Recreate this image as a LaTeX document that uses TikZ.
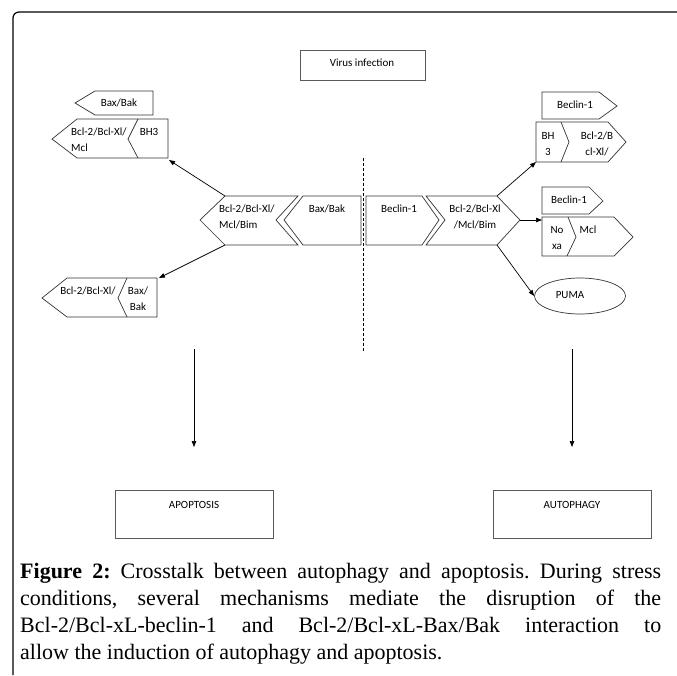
\documentclass[tikz,border=0pt]{standalone}
\usepackage{fontspec}
\setmainfont{Liberation Serif}
\newfontfamily\diagfont{Carlito}
\usetikzlibrary{arrows.meta,shapes.geometric}

\begin{document}
\begin{tikzpicture}[x=1pt,y=-1pt,
        txt/.style={font=\diagfont\fontsize{11}{16}\selectfont, inner sep=0pt},
        shp/.style={draw=black!80, line width=0.7pt, line join=miter},
        boxed/.style={draw=black!65, line width=0.9pt},
        conn/.style={draw, line width=0.7pt, -{Triangle[length=6pt,width=4.5pt]}}]
    \useasboundingbox (0,0) rectangle (677,675);
    % frame
    \draw[line width=1.2pt, rounded corners=6pt] (677,12) -- (13,12) -- (13,675);

    \draw[boxed] (300,50) rectangle (425,80);
    \node[txt] (virus) at (362,63) {Virus infection};

    % apoptosis side
    \draw[shp] (75,103) -- (95,91) -- (153,91) -- (153,115) -- (95,115) -- cycle;
    \node[txt] (baxtop) at (119,103) {Bax/Bak};
    \draw[shp] (52,139) -- (77,119) -- (168,119) -- (168,158) -- (77,158) -- cycle;
    \draw[shp] (138,119) -- (128,139) -- (138,158);
    \node[txt, align=left, anchor=west] (bclmcl) at (71,140) {Bcl-2/Bcl-Xl/\\Mcl};
    \node[txt] (bhthree) at (149,132) {BH3};
    \coordinate (bhthree-se) at (169,160);

    \draw[shp] (42,298) -- (67,278) -- (157,278) -- (157,317) -- (67,317) -- cycle;
    \draw[shp] (127,278) -- (118,298) -- (127,317);
    \node[txt] (bclbot) at (88,291) {Bcl-2/Bcl-Xl/};
    \node[txt, align=center] (baxbot) at (138,299) {Bax/\\Bak};
    \coordinate (baxbot-ne) at (159,278);

    % centre
    \draw[shp] (200,220) -- (225,196) -- (298,196) -- (276,220) -- (298,245) -- (225,245) -- cycle;
    \draw[shp] (284,220) -- (303,196) -- (361,196) -- (361,245) -- (303,245) -- cycle;
    \node[txt, align=left, anchor=west] (bclleft) at (219,217) {Bcl-2/Bcl-Xl/\\Mcl/Bim};
    \node[txt] (baxmid) at (327,209) {Bax/Bak};
    \coordinate (bclleft-nw) at (225,196);
    \coordinate (bclleft-sw) at (225,245);

    \draw[dashed, dash pattern=on 3pt off 2pt, line width=0.7pt] (363,158) -- (363,352);

    \draw[shp] (366,196) -- (422,196) -- (439,220) -- (422,245) -- (366,245) -- cycle;
    \draw[shp] (426,196) -- (497,196) -- (520,220) -- (497,245) -- (426,245) -- (445,220) -- cycle;
    \node[txt] (beclinmid) at (399,209) {Beclin-1};
    \node[txt, align=center] (bclright) at (475,217) {Bcl-2/Bcl-Xl\\/Mcl/Bim};
    \coordinate (bclright-ne) at (497,196);
    \coordinate (bclright-e) at (520,220);
    \coordinate (bclright-se) at (497,245);

    % autophagy side
    \draw[shp] (542,92) -- (599,92) -- (617,106) -- (599,119) -- (542,119) -- cycle;
    \node[txt] (beclintop) at (575,105) {Beclin-1};
    \draw[shp] (536,122) -- (608,122) -- (626,142) -- (608,162) -- (536,162) -- cycle;
    \draw[shp] (561,122) -- (569,142) -- (561,162);
    \node[txt, align=center] (bhtwo) at (548,144) {BH\\3};
    \node[txt, align=center] (bcltwo) at (597,144) {Bcl-2/B\\cl-Xl/};
    \coordinate (bhtwo-sw) at (536,162);

    \draw[shp] (542,187) -- (589,187) -- (603,201) -- (589,214) -- (542,214) -- cycle;
    \node[txt] (beclinlow) at (569,200) {Beclin-1};
    \draw[shp] (542,217) -- (614,217) -- (633,237) -- (614,256) -- (542,256) -- cycle;
    \draw[shp] (568,217) -- (576,237) -- (567,256);
    \node[txt, align=center] (noxa) at (557,238) {No\\xa};
    \node[txt] (mcl) at (588,230) {Mcl};
    \coordinate (noxa-w) at (542,220);

    \node[shp, ellipse, minimum width=91pt, minimum height=36pt] (puma) at (580,296) {};
    \node[txt] (pumatxt) at (570,295) {PUMA};

    % arrows
    \draw[conn] (bclleft-nw) -- (bhthree-se);
    \draw[conn] (bclleft-sw) -- (baxbot-ne);
    \draw[conn] (bclright-ne) -- (bhtwo-sw);
    \draw[conn] (bclright-e) -- (noxa-w);
    \draw[conn] (bclright-se) -- (puma.west);

    \foreach \x/\name/\lbl in {194/apop/APOPTOSIS, 572/auto/AUTOPHAGY}{
        \coordinate (\name-from) at (\x,349);
        \coordinate (\name-to) at (\x,447);
        \draw[conn] (\name-from) -- (\name-to);
        \draw[boxed] (\x-79,490) rectangle (\x+79,538);
        \node[txt] (\name) at (\x,505) {\lbl};
    }

    \node[anchor=north west, inner sep=0pt, text width=641pt, align=justify,
        font=\fontsize{22}{27}\selectfont] (caption) at (20,563)
        {\frenchspacing\hyphenpenalty=10000\tolerance=9999\textbf{Figure 2:} Crosstalk between autophagy and apoptosis. During stress\linebreak
        conditions, several mechanisms mediate the disruption of the\linebreak
        Bcl-2/Bcl-xL-beclin-1 and Bcl-2/Bcl-xL-Bax/Bak interaction to\linebreak
        allow the induction of autophagy and apoptosis.};
\end{tikzpicture}
\end{document}
